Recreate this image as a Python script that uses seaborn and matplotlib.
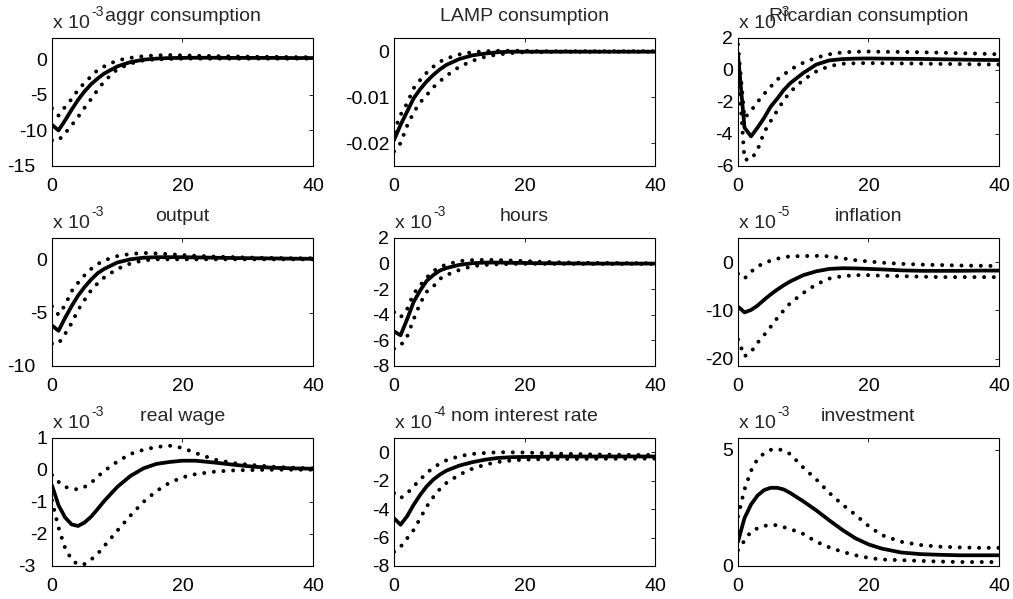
import numpy as np
import pandas as pd
import seaborn as sns
import matplotlib
matplotlib.use("Agg")
import matplotlib.pyplot as plt

# impulse responses (bands = dotted, mean = solid)
periods = [0, 1, 2, 3, 4, 5, 6, 7, 8, 10, 12, 14, 16, 18, 20, 22, 25, 28, 31, 34, 37, 40]

titles = ["aggr consumption", "LAMP consumption", "Ricardian consumption",
          "output", "hours", "inflation",
          "real wage", "nom interest rate", "investment"]
exponents = [-3, None, -3, -3, -3, -5, -3, -4, -3]

aggr_mean = [-9.2, -10.0, -8.6, -7.1, -5.7, -4.5, -3.5, -2.7, -2.0, -1.0, -0.4, -0.05, 0.1, 0.18, 0.2, 0.22, 0.22, 0.2, 0.2, 0.2, 0.18, 0.18]
aggr_up = [-6.9, -7.9, -6.7, -5.6, -4.3, -3.3, -2.4, -1.5, -1.0, -0.15, 0.2, 0.45, 0.55, 0.6, 0.55, 0.5, 0.45, 0.4, 0.35, 0.35, 0.3, 0.3]
aggr_lo = [-11.4, -11.4, -10.4, -9.3, -8.1, -6.8, -5.6, -4.3, -3.1, -1.4, -0.6, -0.15, 0.0, 0.05, 0.1, 0.1, 0.1, 0.1, 0.1, 0.1, 0.1, 0.1]

lamp_mean = [-0.0193, -0.016, -0.0131, -0.0102, -0.0082, -0.0065, -0.0051, -0.0039, -0.0029, -0.0016, -0.0008, -0.0004, -0.0001, 0, 0, 0, 0, 0, 0, 0, 0, 0]
lamp_up = [-0.0175, -0.0138, -0.0113, -0.008, -0.0062, -0.0046, -0.0033, -0.0022, -0.0015, -0.0006, -0.0001, 0.0001, 0.0002, 0.0002, 0.0002, 0.0001, 0.0001, 0.0001, 0.0001, 0.0001, 0.0001, 0.0001]
lamp_lo = [-0.0218, -0.02, -0.0162, -0.0133, -0.0111, -0.0095, -0.0078, -0.0065, -0.0053, -0.0033, -0.002, -0.0011, -0.0006, -0.0003, -0.0001, -0.0001, 0, 0, 0, 0, 0, 0]

ric_mean = [1.0, -3.6, -4.15, -3.6, -3.0, -2.3, -1.8, -1.26, -0.83, -0.19, 0.34, 0.6, 0.68, 0.71, 0.72, 0.71, 0.7, 0.69, 0.67, 0.65, 0.63, 0.62]
ric_up = [1.6, -3.0, -2.55, -2.0, -1.5, -1.05, -0.6, -0.3, 0.02, 0.45, 0.77, 0.98, 1.1, 1.14, 1.15, 1.14, 1.13, 1.11, 1.08, 1.05, 1.02, 0.98]
ric_lo = [0.3, -5.6, -5.6, -5.0, -3.9, -3.2, -2.55, -1.9, -1.37, -0.62, -0.09, 0.24, 0.39, 0.42, 0.43, 0.42, 0.41, 0.4, 0.38, 0.37, 0.35, 0.34]

out_mean = [-6.2, -6.7, -5.5, -4.4, -3.4, -2.6, -1.9, -1.3, -0.9, -0.3, 0.0, 0.15, 0.2, 0.2, 0.2, 0.18, 0.15, 0.12, 0.1, 0.08, 0.06, 0.05]
out_up = [-4.4, -5.2, -4.3, -3.0, -2.2, -1.5, -0.9, -0.45, -0.1, 0.3, 0.5, 0.6, 0.55, 0.48, 0.4, 0.33, 0.25, 0.2, 0.15, 0.12, 0.1, 0.1]
out_lo = [-7.9, -7.9, -7.0, -6.0, -4.75, -3.8, -2.9, -2.25, -1.7, -0.9, -0.4, -0.1, 0.0, 0.0, 0.0, 0.0, 0.0, 0.0, 0.0, 0.0, 0.0, 0.0]

hrs_mean = [-5.3, -5.6, -4.35, -3.0, -2.1, -1.35, -0.9, -0.55, -0.35, -0.1, 0.03, 0.08, 0.08, 0.06, 0.05, 0.03, 0.02, 0.01, 0.0, 0.0, 0.0, 0.0]
hrs_up = [-3.8, -4.2, -3.55, -2.35, -1.7, -1.1, -0.6, -0.27, -0.08, 0.2, 0.27, 0.3, 0.27, 0.24, 0.2, 0.15, 0.1, 0.07, 0.05, 0.04, 0.03, 0.03]
hrs_lo = [-6.65, -6.4, -5.7, -4.35, -3.1, -2.2, -1.8, -1.2, -0.9, -0.5, -0.2, -0.1, -0.05, -0.03, -0.02, -0.02, -0.02, -0.02, -0.02, -0.02, -0.02, -0.02]

infl_mean = [-9.2, -10.4, -9.9, -9.0, -7.8, -6.7, -5.7, -4.8, -4.0, -2.7, -1.9, -1.4, -1.26, -1.3, -1.4, -1.5, -1.7, -1.8, -1.8, -1.8, -1.75, -1.75]
infl_up = [-2.4, -3.4, -2.0, -0.9, -0.2, 0.3, 0.7, 1.0, 1.2, 1.26, 1.3, 1.2, 0.8, 0.4, 0.14, -0.1, -0.35, -0.5, -0.6, -0.7, -0.75, -0.8]
infl_lo = [-16.0, -19.5, -18.6, -16.7, -15.1, -13.4, -11.6, -10.0, -8.5, -6.4, -4.6, -3.4, -2.9, -2.7, -2.7, -2.8, -2.9, -3.0, -3.1, -3.1, -3.1, -3.1]

wage_mean = [-0.48, -1.1, -1.48, -1.7, -1.75, -1.64, -1.46, -1.22, -0.97, -0.53, -0.19, 0.05, 0.19, 0.25, 0.29, 0.29, 0.23, 0.16, 0.1, 0.07, 0.05, 0.04]
wage_up = [-0.16, -0.37, -0.53, -0.58, -0.61, -0.53, -0.4, -0.21, -0.03, 0.26, 0.5, 0.63, 0.72, 0.76, 0.69, 0.53, 0.32, 0.21, 0.15, 0.1, 0.07, 0.05]
wage_lo = [-0.95, -1.8, -2.43, -2.8, -2.96, -2.94, -2.8, -2.62, -2.38, -1.9, -1.43, -1.0, -0.66, -0.4, -0.23, -0.13, -0.05, -0.01, 0.0, 0.01, 0.01, 0.01]

rate_mean = [-4.65, -5.1, -4.5, -3.7, -3.0, -2.4, -1.93, -1.58, -1.3, -0.94, -0.7, -0.52, -0.4, -0.35, -0.33, -0.32, -0.3, -0.3, -0.3, -0.3, -0.3, -0.3]
rate_up = [-2.88, -3.23, -2.9, -2.4, -1.93, -1.46, -1.1, -0.8, -0.57, -0.28, -0.12, -0.05, 0.0, -0.01, -0.02, -0.05, -0.1, -0.13, -0.16, -0.18, -0.19, -0.19]
rate_lo = [-7.0, -6.65, -6.06, -5.47, -4.65, -3.82, -3.16, -2.6, -2.17, -1.58, -1.16, -0.87, -0.68, -0.58, -0.52, -0.5, -0.47, -0.47, -0.46, -0.46, -0.45, -0.45]

inv_mean = [1.04, 2.06, 2.64, 3.03, 3.26, 3.36, 3.36, 3.29, 3.14, 2.78, 2.39, 1.96, 1.55, 1.19, 0.93, 0.75, 0.58, 0.51, 0.48, 0.46, 0.46, 0.46]
inv_up = [2.13, 3.29, 4.09, 4.6, 4.84, 4.99, 5.03, 4.96, 4.81, 4.23, 3.72, 3.14, 2.64, 2.2, 1.72, 1.33, 1.04, 0.9, 0.83, 0.8, 0.78, 0.78]
inv_lo = [0.68, 1.09, 1.48, 1.62, 1.72, 1.77, 1.75, 1.67, 1.59, 1.38, 1.04, 0.8, 0.61, 0.46, 0.35, 0.28, 0.25, 0.22, 0.19, 0.17, 0.17, 0.17]

series = [(aggr_mean, aggr_up, aggr_lo), (lamp_mean, lamp_up, lamp_lo), (ric_mean, ric_up, ric_lo),
          (out_mean, out_up, out_lo), (hrs_mean, hrs_up, hrs_lo), (infl_mean, infl_up, infl_lo),
          (wage_mean, wage_up, wage_lo), (rate_mean, rate_up, rate_lo), (inv_mean, inv_up, inv_lo)]

yticks = [[-15, -10, -5, 0], [-0.02, -0.01, 0], [-6, -4, -2, 0, 2],
          [-10, -5, 0], [-8, -6, -4, -2, 0, 2], [-20, -10, 0],
          [-3, -2, -1, 0, 1], [-8, -6, -4, -2, 0], [0, 5]]
ylims = [(-15, 3), (-0.025, 0.003), (-6, 2),
         (-10, 2), (-8, 2), (-21.5, 5),
         (-3, 1), (-8, 1), (0, 5.5)]

sns.set_style("white")
plt.rcParams['font.family'] = ['Liberation Sans', 'DejaVu Sans']
plt.rcParams['axes.unicode_minus'] = False

fig = plt.figure(figsize=(10.13, 5.99), dpi=100)

lefts = [0.0513, 0.389, 0.7285]
bottoms = [0.7229, 0.389, 0.0551]
w, h = 0.2577, 0.2137

for i in range(9):
    ax = fig.add_axes([lefts[i % 3], bottoms[i // 3], w, h])
    mean, up, lo = series[i]
    df = pd.DataFrame({'t': periods, 'mean': mean, 'up': up, 'lo': lo})
    for col in ['up', 'lo']:
        sns.lineplot(data=df, x='t', y=col, ax=ax, color='black', lw=2.9,
                     linestyle=(0, (0.001, 2.4)), dash_capstyle='round')
    sns.lineplot(data=df, x='t', y='mean', ax=ax, color='black', lw=2.7)

    ax.set_xlim(0, 40)
    ax.set_ylim(*ylims[i])
    ax.set_xticks([0, 20, 40])
    ax.set_yticks(yticks[i])
    if i == 1:
        ax.set_yticklabels(['-0.02', '-0.01', '0'])
    else:
        ax.set_yticklabels([str(v) for v in yticks[i]])
    ax.set_xlabel('')
    ax.set_ylabel('')
    ax.tick_params(direction='in', length=3, width=0.6, labelsize=14,
                   top=True, right=True, colors='black')
    ax.tick_params(axis='x', pad=9)
    ax.tick_params(axis='y', pad=3.5)
    # the corner label of the left column sits further out, as in the source
    if i % 3 == 0:
        ax.yaxis.get_major_ticks()[0].set_pad(12)
    for s in ax.spines.values():
        s.set_visible(True)
        s.set_color('black')
        s.set_linewidth(0.8)
    ax.set_title(titles[i], fontsize=14, pad=12)
    if exponents[i] is not None:
        ax.annotate('x 10', xy=(0, 1), xycoords='axes fraction', xytext=(0.5, 7),
                    textcoords='offset points', fontsize=14, ha='left', va='baseline')
        ax.annotate(str(exponents[i]), xy=(0, 1), xycoords='axes fraction', xytext=(28.5, 16),
                    textcoords='offset points', fontsize=10, ha='left', va='baseline')

fig.savefig('out.png', dpi=100)
